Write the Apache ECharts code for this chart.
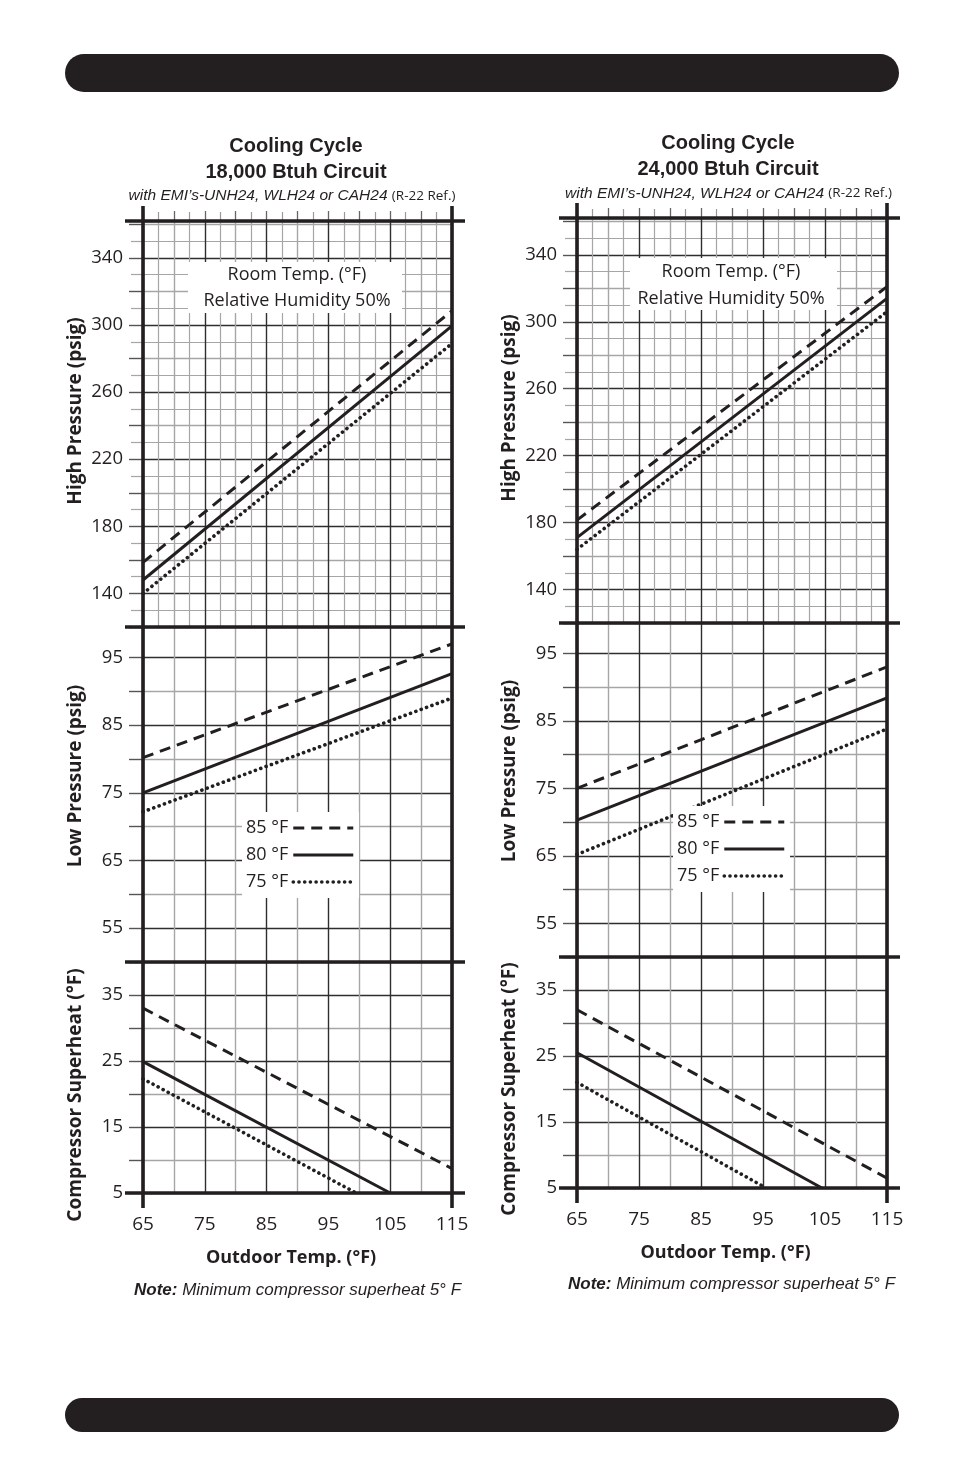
<!DOCTYPE html>
<html><head><meta charset="utf-8">
<script src="https://cdn.jsdelivr.net/npm/echarts@6/dist/echarts.min.js"></script>
<style>html,body{margin:0;padding:0;background:#fff}#c{width:954px;height:1474px}</style>
</head><body><div id="c"></div>
<script>
// ---- tick labels ----
const xTicks = [65, 75, 85, 95, 105, 115];
const highTicks = [140, 180, 220, 260, 300, 340];
const lowTicks = [55, 65, 75, 85, 95];
const shTicks = [5, 15, 25, 35];
const roomTemps = ['85 °F', '80 °F', '75 °F'];

// ---- 18,000 Btuh circuit (outdoor temp, value) ----
const hp18_85 = [[65, 158.5], [115, 308.5]];
const hp18_80 = [[65, 148], [115, 299.5]];
const hp18_75 = [[65, 140], [115, 289]];
const lp18_85 = [[65, 80.2], [115, 97]];
const lp18_80 = [[65, 75], [115, 92.6]];
const lp18_75 = [[65, 72.2], [115, 89]];
const sh18_85 = [[65, 33], [115, 8.7]];
const sh18_80 = [[65, 24.9], [105, 5]];
const sh18_75 = [[65, 22.3], [99.5, 5]];

// ---- 24,000 Btuh circuit ----
const hp24_85 = [[65, 181.5], [115, 321]];
const hp24_80 = [[65, 171], [115, 314]];
const hp24_75 = [[65, 164], [115, 306]];
const lp24_85 = [[65, 75], [115, 93]];
const lp24_80 = [[65, 70.3], [115, 88.4]];
const lp24_75 = [[65, 65.2], [115, 83.8]];
const sh24_85 = [[65, 32], [115, 6.5]];
const sh24_80 = [[65, 25.5], [104.5, 5]];
const sh24_75 = [[65, 21], [95.5, 5]];

const INK = '#231f20', DARK = '#2e2e2e', LIGHT = '#a6a6a6';
const X_RANGE = [65, 115];
const HIGH_RANGE = [120, 362], LOW_RANGE = [50, 99.5], SH_RANGE = [5, 40];

const panelData = [
  [hp18_85, hp18_80, hp18_75], [lp18_85, lp18_80, lp18_75], [sh18_85, sh18_80, sh18_75],
  [hp24_85, hp24_80, hp24_75], [lp24_85, lp24_80, lp24_75], [sh24_85, sh24_80, sh24_75]
];

const lineStyles = {
  '85 °F': { type: [11, 7], width: 3, cap: 'butt' },
  '80 °F': { type: 'solid', width: 3 },
  '75 °F': { type: [0.1, 5.6], width: 3.6, cap: 'round' }
};

const grids = [
  { left: 143, width: 309, top: 221, height: 406 },
  { left: 143, width: 309, top: 627, height: 335 },
  { left: 143, width: 309, top: 962, height: 231 },
  { left: 577, width: 310, top: 218, height: 405 },
  { left: 577, width: 310, top: 623, height: 334 },
  { left: 577, width: 310, top: 957, height: 231 }
].map(g => Object.assign({ outerBoundsMode: 'none', containLabel: false }, g));

const tickFont = { fontFamily: 'Open Sans', color: INK };

function xAxisFor(g) {
  const kind = g % 3;
  const isHigh = kind === 0, isBottom = kind === 2;
  return {
    type: 'value', gridIndex: g, position: 'bottom', min: X_RANGE[0], max: X_RANGE[1], interval: 5,
    axisLine: { show: false }, axisTick: { show: false },
    axisLabel: Object.assign({ show: isBottom, margin: 22, fontSize: 19,
      formatter: v => xTicks.includes(v) ? String(v) : '' }, tickFont),
    splitLine: { show: true, lineStyle: { color: [DARK, LIGHT], width: 1.4 } },
    minorTick: { show: false, splitNumber: 2 },
    minorSplitLine: { show: isHigh, lineStyle: { color: LIGHT, width: 1.2 } },
    name: isBottom ? 'Outdoor Temp. (°F)' : '', nameLocation: 'middle', nameGap: 56,
    nameTextStyle: { fontFamily: 'Open Sans', fontWeight: 'bold', fontSize: 18, color: INK, padding: [0, 13, 0, 0] }
  };
}
function topAxisFor(g) {
  return {
    type: 'value', gridIndex: g, position: 'top', min: X_RANGE[0], max: X_RANGE[1], interval: 5,
    axisLine: { show: false }, axisLabel: { show: false }, splitLine: { show: false },
    axisTick: { show: true, length: 10, lineStyle: { color: '#666', width: 1.3 } },
    minorTick: { show: true, splitNumber: 2, length: 9, lineStyle: { color: '#999', width: 1.2 } }
  };
}
function yAxisFor(g) {
  const kind = g % 3;
  const cfg = [
    { range: HIGH_RANGE, interval: 20, ticks: highTicks, colors: [LIGHT, DARK], minor: true },
    { range: LOW_RANGE, interval: 5, ticks: lowTicks, colors: [LIGHT, DARK], minor: false },
    { range: SH_RANGE, interval: 5, ticks: shTicks, colors: [DARK, LIGHT], minor: false }
  ][kind];
  return {
    type: 'value', gridIndex: g, position: 'left', min: cfg.range[0], max: cfg.range[1], interval: cfg.interval,
    axisLine: { show: false },
    axisTick: { show: true, length: 14, lineStyle: { color: '#555', width: 1.4 } },
    minorTick: { show: cfg.minor, splitNumber: 2, length: 12, lineStyle: { color: LIGHT, width: 1.2 } },
    minorSplitLine: { show: cfg.minor, lineStyle: { color: LIGHT, width: 1.2 } },
    axisLabel: Object.assign({ margin: 20, fontSize: 18.5,
      formatter: v => cfg.ticks.includes(v) ? String(v) : '' }, tickFont),
    splitLine: { show: true, lineStyle: { color: cfg.colors, width: 1.4 } }
  };
}

const xAxes = grids.map((_, g) => xAxisFor(g)).concat([topAxisFor(0), topAxisFor(3)]);
const yAxes = grids.map((_, g) => yAxisFor(g));

const series = [];
panelData.forEach((lines, g) => {
  lines.forEach((data, i) => {
    const name = roomTemps[i];
    series.push({
      type: 'line', name, xAxisIndex: g, yAxisIndex: g, data, symbol: 'none', z: 3,
      silent: true, animation: false, color: INK,
      itemStyle: { color: INK },
      lineStyle: Object.assign({ color: INK }, lineStyles[name])
    });
  });
});

function legendAt(left, top) {
  return {
    orient: 'vertical', left, top, align: 'right', selectedMode: false,
    itemWidth: 60, itemHeight: 14, itemGap: 7, padding: [6, 4, 6, 4],
    backgroundColor: '#fff', z: 6,
    textStyle: { fontFamily: 'Open Sans', fontSize: 18, color: INK, lineHeight: 20 },
    data: roomTemps.map(n => ({
      name: n,
      itemStyle: { color: 'rgba(0,0,0,0)', borderWidth: 0, opacity: 0 },
      lineStyle: Object.assign({ color: INK }, lineStyles[n])
    }))
  };
}

const chart = echarts.init(document.getElementById('c'), null, { renderer: 'canvas' });
chart.setOption({
  animation: false,
  backgroundColor: '#fff',
  grid: grids,
  xAxis: xAxes,
  yAxis: yAxes,
  legend: [legendAt(242, 812), legendAt(673, 806)],
  series
});

// ---- decorations (frame lines computed from the axes) ----
const g = [];
function txt(x, y, text, font, extra) {
  g.push({ type: 'text', x, y, z: 20, rotation: (extra && extra.rotation) || 0,
    style: Object.assign({ text, font, fill: INK, align: 'center', verticalAlign: 'middle' }, (extra && extra.style) || {}) });
}
// black rounded bars
g.push({ type: 'rect', shape: { x: 65, y: 54, width: 834, height: 38, r: 19 }, style: { fill: INK }, z: 20 });
g.push({ type: 'rect', shape: { x: 65, y: 1398, width: 834, height: 34, r: 17 }, style: { fill: INK }, z: 20 });

const charts = [
  { gi: 0, cx: 296, t1: 146, t2: 172.5, sx: 292, sy: 196, title2: '18,000 Btuh Circuit',
    box: [188, 262, 214, 51], r1: 275, r2: 301, rx: 297, ax: 76, ay: [411, 776, 1095], nx: 297.5, ny: 1290 },
  { gi: 3, cx: 728, t1: 143, t2: 169.5, sx: 728.5, sy: 193.5, title2: '24,000 Btuh Circuit',
    box: [630, 258, 207, 52], r1: 272, r2: 299, rx: 731, ax: 510, ay: [408, 771, 1089], nx: 731.5, ny: 1284 }
];
const yNames = ['High Pressure (psig)', 'Low Pressure (psig)', 'Compressor Superheat (°F)'];

charts.forEach(c => {
  txt(c.cx, c.t1, 'Cooling Cycle', 'bold 20px "Liberation Sans"');
  txt(c.cx, c.t2, c.title2, 'bold 20px "Liberation Sans"');
  g.push({ type: 'text', x: c.sx, y: c.sy, z: 20, style: {
    text: '{a|with EMI’s-UNH24, WLH24 or CAH24 }{b|(R-22 Ref.)}', fill: INK, align: 'center', verticalAlign: 'middle',
    rich: { a: { fontFamily: 'Liberation Sans', fontStyle: 'italic', fontSize: 15.5, fill: INK },
            b: { fontFamily: 'Open Sans', fontSize: 13.5, fill: INK } } } });
  g.push({ type: 'rect', shape: { x: c.box[0], y: c.box[1], width: c.box[2], height: c.box[3] }, style: { fill: '#fff' }, z: 19 });
  txt(c.rx, c.r1, 'Room Temp. (°F)', '18px "Open Sans"');
  txt(c.rx, c.r2, 'Relative Humidity 50%', '18px "Open Sans"');
  yNames.forEach((n, i) => txt(c.ax, c.ay[i], n, 'bold 19px "Open Sans"', { rotation: Math.PI / 2 }));
  g.push({ type: 'text', x: c.nx, y: c.ny, z: 20, style: {
    text: '{a|Note:}{b| Minimum compressor superheat 5° F}', fill: INK, align: 'center', verticalAlign: 'middle',
    rich: { a: { fontFamily: 'Liberation Sans', fontStyle: 'italic', fontWeight: 'bold', fontSize: 17, fill: INK },
            b: { fontFamily: 'Liberation Sans', fontStyle: 'italic', fontSize: 17, fill: INK } } } });

  // frame
  const p = (gi, v) => chart.convertToPixel({ gridIndex: gi }, v);
  const tl = p(c.gi, [X_RANGE[0], HIGH_RANGE[1]]);
  const tr = p(c.gi, [X_RANGE[1], HIGH_RANGE[1]]);
  const s1 = p(c.gi, [X_RANGE[0], HIGH_RANGE[0]])[1];
  const s2 = p(c.gi + 1, [X_RANGE[0], LOW_RANGE[0]])[1];
  const bt = p(c.gi + 2, [X_RANGE[0], SH_RANGE[0]])[1];
  const xl = tl[0], xr = tr[0];
  [tl[1], s1, s2, bt].forEach(y => g.push({ type: 'line', z: 18,
    shape: { x1: xl - 18, y1: y, x2: xr + 13, y2: y }, style: { stroke: INK, lineWidth: 3.6 } }));
  [xl, xr].forEach(x => g.push({ type: 'line', z: 18,
    shape: { x1: x, y1: tl[1] - 15, x2: x, y2: bt + 15 }, style: { stroke: INK, lineWidth: 3.6 } }));
});

chart.setOption({ graphic: { elements: g } });
</script>
</body></html>
